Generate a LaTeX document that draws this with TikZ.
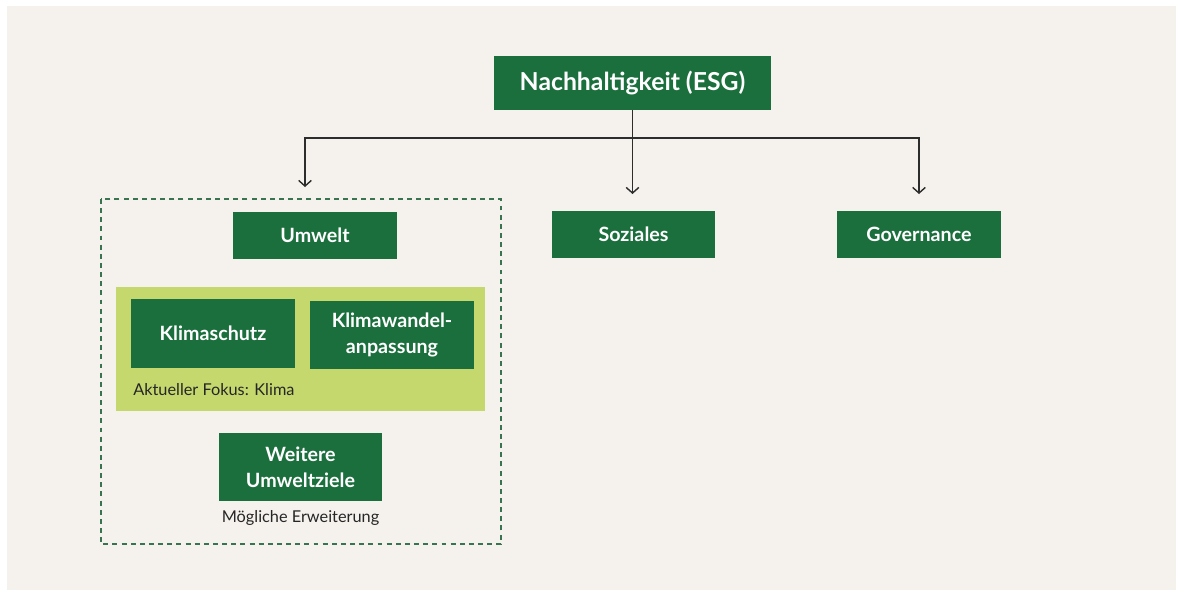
\documentclass[tikz,border=0pt]{standalone}
\usepackage{fontspec}
\setmainfont{Lato}
\usetikzlibrary{arrows.meta,positioning}
\definecolor{esggreen}{RGB}{27,111,61}
\definecolor{focusgreen}{RGB}{197,216,110}
\definecolor{paper}{RGB}{245,242,238}
\definecolor{linegray}{RGB}{45,45,45}
\begin{document}
\begin{tikzpicture}[x=0.025cm, y=-0.025cm,
    pillar/.style={fill=esggreen, text=white, font=\bfseries\fontsize{14}{18.4}\selectfont,
      minimum width=4.075cm, minimum height=1.175cm, inner sep=0pt, align=center},
    subpillar/.style={pillar, minimum height=1.7cm},
    connector/.style={draw=linegray, line width=1pt},
    pointer/.style={connector, -{Straight Barb[length=4pt, width=9pt, line width=1pt]}},
    caption/.style={text=black!85, font=\fontsize{11.6}{14}\selectfont, inner sep=0pt}]
  % page
  \fill[white] (0,0) rectangle (1181,592);
  \fill[paper] (7,6) rectangle (1176,590);

  % top level
  \node[pillar, minimum width=6.925cm, minimum height=1.35cm,
    font=\bfseries\fontsize{17.6}{20}\selectfont] (esg) at (632.5,83) {Nachhaltigkeit (ESG)};

  % environment group
  \draw[esggreen!70!gray, line width=0.9pt, dash pattern=on 3.5pt off 3pt] (101,199) rectangle (501,544);
  \node[pillar] (umwelt) at (315,235.5) {Umwelt};
  \node[fill=focusgreen, minimum width=9.225cm, minimum height=3.1cm, inner sep=0pt] (fokus) at (300.5,349) {};
  \node[subpillar] (schutz) at (213,333.5) {Klimaschutz};
  \node[subpillar] (anpassung) at (392,335) {Klimawandel-\\anpassung};
  \node[caption, anchor=west] (fokuslabel) at (133,390) {Aktueller Fokus: Klima};
  \node[subpillar] (weitere) at (300.5,467) {Weitere\\Umweltziele};
  \node[caption, below=12pt of weitere.south, anchor=center] (erweiterung) {Mögliche Erweiterung};

  % other pillars
  \node[pillar] (sozial) at (633.5,234.5) {Soziales};
  \node[pillar] (gov) at (919,234.5) {Governance};

  % connectors
  \coordinate (bar) at (632.5,138);
  \coordinate (umweltend) at (305,187);
  \coordinate (sozialend) at (632.5,194);
  \coordinate (govend) at (919,194);
  \draw[connector] (esg.south) -- (bar);
  \draw[pointer] (bar) -| (umweltend);
  \draw[pointer] (bar) -- (sozialend);
  \draw[pointer] (bar) -| (govend);
\end{tikzpicture}
\end{document}
